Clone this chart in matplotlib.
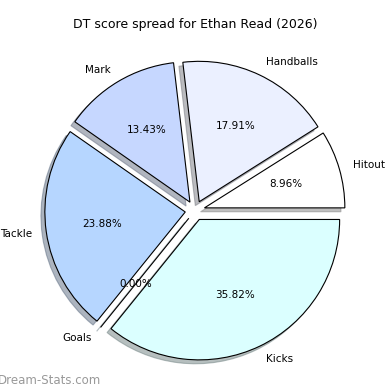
import matplotlib
matplotlib.use("Agg")
import matplotlib.pyplot as plt

labels = ["Hitout", "Handballs", "Mark", "Tackle", "Goals", "Kicks"]
values = [6, 12, 9, 16, 0, 24]
colors = ["#ffffff", "#ebf0ff", "#c6d7ff", "#b6d6ff", "#c8f0ff", "#dbffff"]
explode = [0.07] * len(values)

fig = plt.figure(figsize=(3.9, 3.9), dpi=100)
ax = fig.add_axes([0.05, 0.01, 0.9, 0.9])
ax.pie(values, labels=labels, colors=colors, explode=explode,
       autopct="%1.2f%%", startangle=0,
       shadow={"ox": -0.02, "oy": -0.02, "shade": 0.5},
       wedgeprops={"edgecolor": "black", "linewidth": 0.8},
       textprops={"fontsize": 7.5})
ax.set_aspect("equal")
fig.text(0.5, 0.936, "DT score spread for Ethan Read (2026)", ha="center",
         va="center", fontsize=9)
fig.text(-0.005, 0.025, "Dream-Stats.com", color="#999999", fontsize=8.5,
         va="center")
fig.savefig("out.png", dpi=100)
